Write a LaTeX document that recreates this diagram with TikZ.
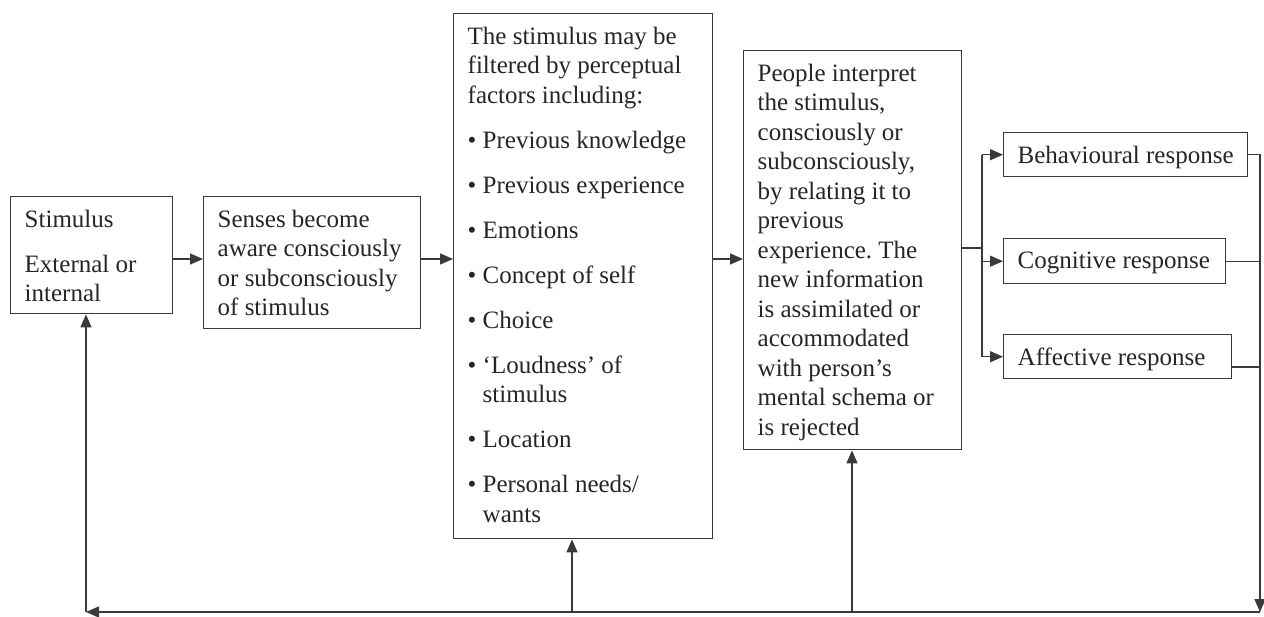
\documentclass[tikz,border=0pt]{standalone}
\usepackage{fontspec}
\setmainfont{Liberation Serif}
\usetikzlibrary{arrows.meta,calc}
\definecolor{linec}{HTML}{3A3A3A}
\definecolor{txt}{HTML}{262626}
\frenchspacing
\newcommand\bx[3]{\begin{minipage}[c][#2pt][t]{#1pt}\setlength{\parindent}{0pt}\setlength{\leftskip}{14pt}\fontsize{25}{29.5}\selectfont\vspace*{13pt}#3\end{minipage}}
\newcommand\gap{\\[15.5pt]}
\newcommand\ind{\hphantom{\textbullet\ }}
\begin{document}
\begin{tikzpicture}[x=1pt,y=1pt,
  box/.style={draw=linec, line width=1.4pt, inner sep=0pt, anchor=north west, text=txt},
  arr/.style={draw=linec, line width=1.4pt, -{Triangle[length=13pt,width=11pt]}},
  ln/.style={draw=linec, line width=1.4pt}]
\useasboundingbox[fill=white] (0,0) rectangle (1264,-616);

\node[box] (stim) at (10,-196) {\bx{162}{117}{Stimulus\gap External or\\internal}};
\node[box] (senses) at (203,-196) {\bx{217}{132}{Senses become\\aware consciously\\or subconsciously\\of stimulus}};
\node[box] (filter) at (453,-13) {\bx{259}{525}{The stimulus may be\\filtered by perceptual\\factors including:\gap
\textbullet\ Previous knowledge\gap
\textbullet\ Previous experience\gap
\textbullet\ Emotions\gap
\textbullet\ Concept of self\gap
\textbullet\ Choice\gap
\textbullet\ ‘Loudness’ of\\\ind stimulus\gap
\textbullet\ Location\gap
\textbullet\ Personal needs/\\\ind wants}};
\node[box] (interp) at (743,-50) {\bx{218}{399}{People interpret\\the stimulus,\\consciously or\\subconsciously,\\by relating it to\\previous\\experience. The\\new information\\is assimilated or\\accommodated\\with person’s\\mental schema or\\is rejected}};
\node[box] (behav) at (1003,-132) {\bx{244}{44}{Behavioural response}};
\node[box] (cog) at (1003,-238) {\bx{222}{45}{Cognitive response}};
\node[box] (aff) at (1003,-334) {\bx{228}{44}{Affective response}};

\coordinate (axis) at (0,-259);
\coordinate (split) at (982,-248);
\coordinate (br) at (1260,-612);
\coordinate (bl) at (86,-612);
\coordinate (fx) at (572,-612);
\coordinate (ix) at (852,-612);
\coordinate (affo) at (0,-367);

\draw[arr] (stim.east |- axis) -- (senses.west |- axis);
\draw[arr] (senses.east |- axis) -- (filter.west |- axis);
\draw[arr] (filter.east |- axis) -- (interp.west |- axis);
\draw[ln] (interp.east |- split) -- (split);
\draw[ln] (split |- behav.west) -- (split |- aff.west);
\draw[arr] (split |- behav.west) -- (behav.west);
\draw[arr] (split |- cog.west) -- (cog.west);
\draw[arr] (split |- aff.west) -- (aff.west);
\draw[arr] (behav.east) -- (behav.east -| br) -- (br);
\draw[ln] (cog.east) -- (cog.east -| br);
\draw[ln] (aff.east |- affo) -- (br |- affo);
\draw[arr] (br) -- (bl);
\draw[arr] (bl) -- (bl |- stim.south);
\draw[arr] (fx) -- (fx |- filter.south);
\draw[arr] (ix) -- (ix |- interp.south);
\end{tikzpicture}
\end{document}
